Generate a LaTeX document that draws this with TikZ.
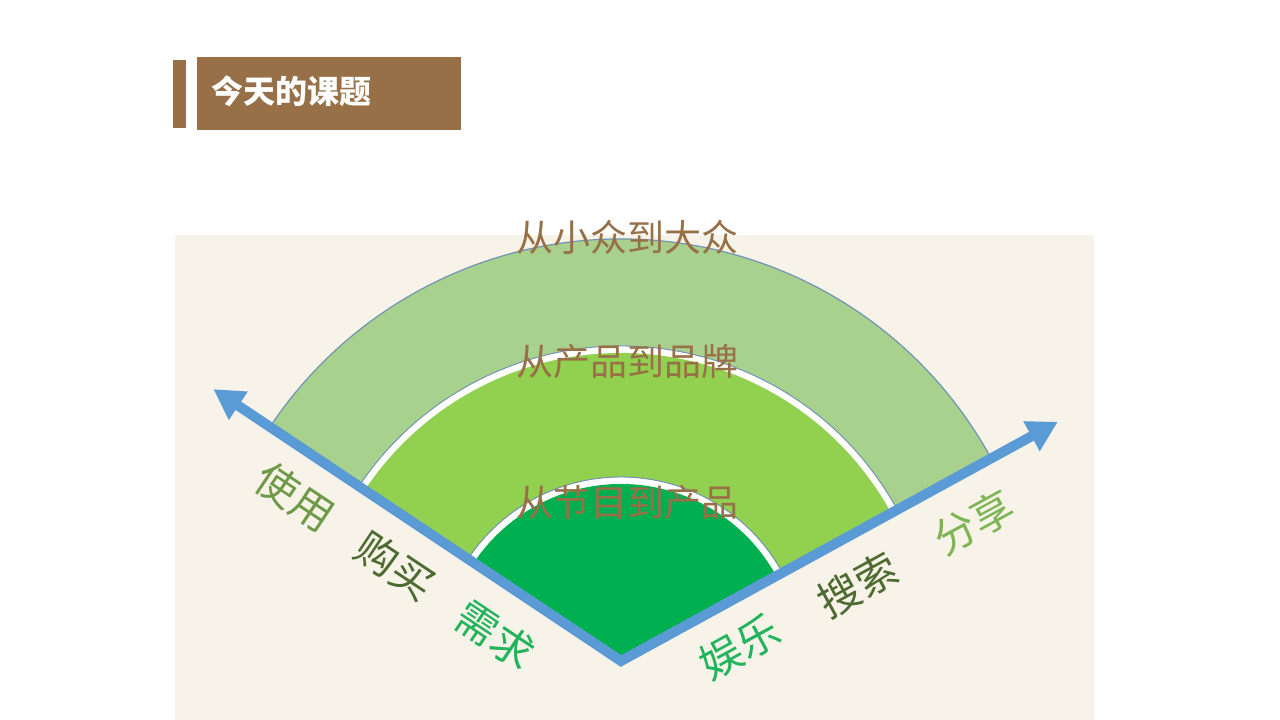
\documentclass[tikz,border=0pt]{standalone}
\usepackage{fontspec}
\usetikzlibrary{arrows.meta,calc}
\newfontfamily\cjk{Noto Sans CJK SC}
\definecolor{title}{HTML}{977047}
\definecolor{cream}{HTML}{F7F3E9}
\definecolor{outer}{HTML}{A9D18E}
\definecolor{middle}{HTML}{92D050}
\definecolor{inner}{HTML}{00B050}
\definecolor{axis}{HTML}{5B9BD5}
\definecolor{rim}{HTML}{7393B3}
\definecolor{olive}{HTML}{6E9A48}
\definecolor{darkolive}{HTML}{4D6B30}
\definecolor{grass}{HTML}{22B35C}
\definecolor{leaf}{HTML}{7DB555}
\newcommand{\fsz}[1]{\fontsize{#1}{#1}\selectfont}

\begin{document}
\begin{tikzpicture}[x=1pt, y=1pt]
\useasboundingbox (0,0) rectangle (1280,720);
\fill[white] (0,0) rectangle (1280,720);
\fill[cream] (175,0) rectangle (1094,485);
% title
\fill[title] (173,592) rectangle (186,660);
\fill[title] (197,590) rectangle (461,663);
\node[anchor=west, text=white, font=\cjk\bfseries\fsz{32}] (head) at (208,629) {今天的课题};
% sectors
\coordinate (apex) at (621,59);
\filldraw[fill=outer, draw=rim, line width=1.2] (apex) -- ++(28.7:422) arc[start angle=28.7, end angle=146.3, radius=422] -- cycle;
\filldraw[fill=white, draw=rim, line width=1] (apex) -- ++(28.7:315) arc[start angle=28.7, end angle=146.3, radius=315] -- cycle;
\fill[middle] (apex) -- ++(28.7:308) arc[start angle=28.7, end angle=146.3, radius=308] -- cycle;
\filldraw[fill=white, draw=rim, line width=1] (apex) -- ++(28.7:184) arc[start angle=28.7, end angle=146.3, radius=184] -- cycle;
\fill[inner] (apex) -- ++(28.7:177) arc[start angle=28.7, end angle=146.3, radius=177] -- cycle;
% axes
\coordinate (lefttip) at ($(apex)+(146.3:490)$);
\coordinate (righttip) at ($(apex)+(28.7:498)$);
\draw[axis, line width=10pt, line join=miter, {Triangle[length=30pt, width=32pt]}-{Triangle[length=30pt, width=32pt]}] (lefttip) -- (apex) -- (righttip);
% ring labels
\node[text=title, font=\cjk\fsz{37}] (mass) at (627,483) {从小众到大众};
\node[text=title, font=\cjk\fsz{37}] (brand) at (627,358) {从产品到品牌};
\node[text=title, font=\cjk\fsz{37}] (prod) at (627,217) {从节目到产品};
% left side
\node[rotate=-33.7, inner sep=0, text=olive, font=\cjk\fsz{42}] (use) at (295,223) {使用};
\node[rotate=-33.7, inner sep=0, text=darkolive, font=\cjk\fsz{42}] (buy) at (395,154) {购买};
\node[rotate=-33.7, inner sep=0, text=grass, font=\cjk\fsz{42}] (need) at (495,85) {需求};
% right side
\node[rotate=28.7, inner sep=0, text=grass, font=\cjk\fsz{42}] (fun) at (740,73) {娱乐};
\node[rotate=28.7, inner sep=0, text=darkolive, font=\cjk\fsz{42}] (find) at (858,135) {搜索};
\node[rotate=28.7, inner sep=0, text=leaf, font=\cjk\fsz{42}] (share) at (974,198) {分享};
\end{tikzpicture}
\end{document}
